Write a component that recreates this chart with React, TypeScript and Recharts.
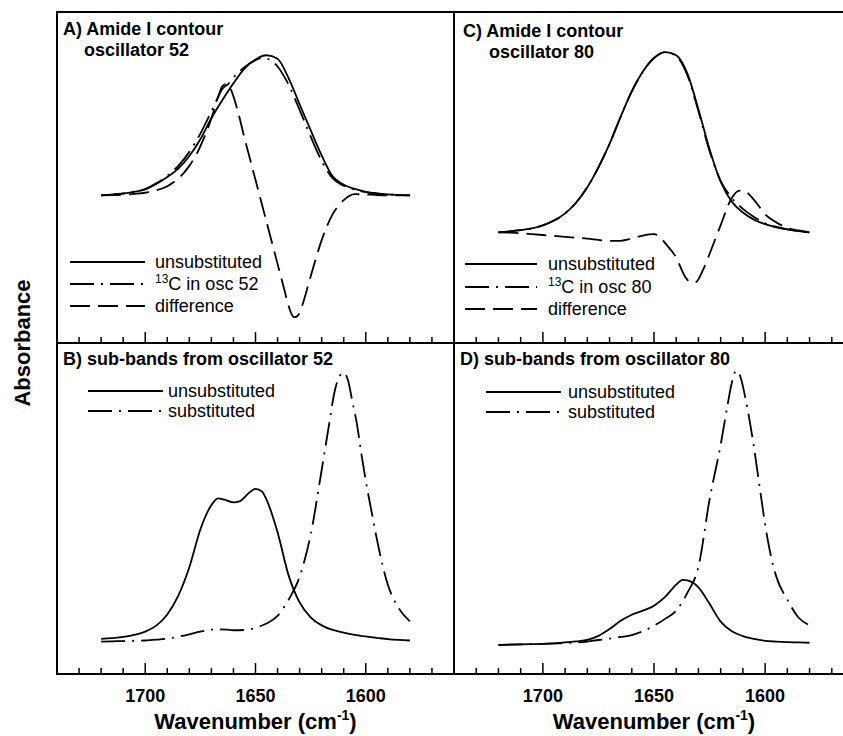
import { LineChart, Line, XAxis, YAxis } from 'recharts';

// wavenumber ticks: minor every 10, labelled every 50
const TICKS = [1730, 1720, 1710, 1700, 1690, 1680, 1670, 1660, 1650, 1640, 1630, 1620, 1610, 1600, 1590, 1580, 1570];
const X_DOMAIN = [1560, 1740];

// A) Amide I contour, oscillator 52
const aUnsub = [[1720, 0], [1715, 0.005], [1710, 0.012], [1705, 0.025], [1700, 0.042], [1695, 0.08], [1690, 0.13], [1685, 0.19], [1680, 0.28], [1675, 0.4], [1670, 0.55], [1665, 0.68], [1660, 0.8], [1655, 0.905], [1650, 0.97], [1645, 1.0], [1640, 0.975], [1635, 0.836], [1630, 0.65], [1625, 0.465], [1620, 0.285], [1615, 0.135], [1610, 0.075], [1605, 0.045], [1600, 0.025], [1595, 0.014], [1590, 0.007], [1585, 0.003], [1580, 0]];
const aSub = [[1720, 0], [1715, 0.005], [1710, 0.013], [1705, 0.027], [1700, 0.045], [1695, 0.085], [1690, 0.14], [1685, 0.21], [1680, 0.31], [1675, 0.44], [1670, 0.6], [1667, 0.7], [1665, 0.76], [1662, 0.8], [1660, 0.84], [1655, 0.915], [1650, 0.965], [1647, 0.98], [1644, 0.972], [1640, 0.92], [1635, 0.79], [1630, 0.61], [1625, 0.42], [1620, 0.245], [1615, 0.12], [1610, 0.068], [1605, 0.04], [1600, 0.022], [1595, 0.012], [1590, 0.006], [1585, 0.002], [1580, 0]];
const aDiff = [[1720, 0], [1715, 0.001], [1710, 0.004], [1705, 0.01], [1700, 0.018], [1695, 0.035], [1690, 0.065], [1685, 0.12], [1680, 0.21], [1675, 0.35], [1670, 0.55], [1667, 0.7], [1665, 0.78], [1663, 0.795], [1661, 0.75], [1658, 0.6], [1655, 0.41], [1650, 0.11], [1645, -0.19], [1640, -0.49], [1637, -0.67], [1635, -0.79], [1633, -0.865], [1632, -0.87], [1630, -0.84], [1629, -0.796], [1625, -0.58], [1620, -0.32], [1615, -0.135], [1610, -0.035], [1605, 0.008], [1600, 0.006], [1595, 0.002], [1590, 0], [1580, 0]];

// C) Amide I contour, oscillator 80
const cUnsub = [[1720, 0], [1715, 0.005], [1710, 0.012], [1705, 0.022], [1700, 0.038], [1695, 0.065], [1690, 0.105], [1685, 0.165], [1680, 0.25], [1675, 0.36], [1670, 0.49], [1665, 0.64], [1660, 0.78], [1655, 0.89], [1650, 0.965], [1645, 0.998], [1640, 0.98], [1635, 0.88], [1630, 0.68], [1625, 0.46], [1620, 0.28], [1615, 0.17], [1610, 0.11], [1605, 0.07], [1600, 0.045], [1595, 0.028], [1590, 0.016], [1585, 0.007], [1580, 0]];
const cSub = [[1720, 0], [1715, 0.005], [1710, 0.012], [1705, 0.022], [1700, 0.038], [1695, 0.065], [1690, 0.105], [1685, 0.165], [1680, 0.25], [1675, 0.36], [1670, 0.49], [1665, 0.64], [1660, 0.78], [1655, 0.89], [1650, 0.965], [1645, 0.998], [1640, 0.975], [1635, 0.87], [1630, 0.67], [1625, 0.45], [1620, 0.285], [1615, 0.19], [1610, 0.13], [1605, 0.085], [1600, 0.05], [1595, 0.03], [1590, 0.016], [1585, 0.007], [1580, 0]];
const cDiff = [[1720, 0], [1715, -0.002], [1710, -0.005], [1705, -0.01], [1700, -0.015], [1695, -0.02], [1690, -0.025], [1685, -0.03], [1680, -0.035], [1675, -0.042], [1670, -0.048], [1665, -0.047], [1660, -0.035], [1655, -0.018], [1650, -0.01], [1647, -0.03], [1645, -0.06], [1640, -0.14], [1636, -0.246], [1633, -0.28], [1631, -0.275], [1628, -0.21], [1625, -0.12], [1620, 0.04], [1615, 0.19], [1612, 0.23], [1610, 0.232], [1605, 0.18], [1600, 0.1], [1595, 0.055], [1590, 0.025], [1585, 0.01], [1580, 0]];

// B) sub-bands from oscillator 52
const bUnsub = [[1720, 0.015], [1715, 0.018], [1710, 0.022], [1705, 0.03], [1700, 0.042], [1695, 0.064], [1690, 0.105], [1685, 0.175], [1680, 0.28], [1675, 0.42], [1670, 0.51], [1667, 0.535], [1664, 0.53], [1660, 0.52], [1657, 0.525], [1653, 0.555], [1650, 0.57], [1647, 0.56], [1645, 0.53], [1640, 0.41], [1635, 0.25], [1630, 0.15], [1625, 0.095], [1620, 0.065], [1615, 0.048], [1610, 0.038], [1605, 0.03], [1600, 0.024], [1595, 0.019], [1590, 0.014], [1585, 0.011], [1580, 0.009]];
const bSub = [[1720, 0.005], [1715, 0.006], [1710, 0.007], [1705, 0.008], [1700, 0.009], [1695, 0.012], [1690, 0.016], [1685, 0.023], [1680, 0.032], [1675, 0.042], [1670, 0.049], [1667, 0.05], [1663, 0.049], [1660, 0.047], [1655, 0.048], [1650, 0.056], [1645, 0.072], [1640, 0.1], [1635, 0.16], [1630, 0.245], [1625, 0.4], [1620, 0.64], [1617, 0.79], [1614, 0.935], [1612, 0.985], [1610, 1.0], [1608, 0.97], [1606, 0.89], [1604, 0.81], [1602, 0.7], [1600, 0.6], [1597, 0.47], [1595, 0.385], [1590, 0.215], [1585, 0.128], [1580, 0.08]];

// D) sub-bands from oscillator 80
const dUnsub = [[1720, 0], [1715, 0.001], [1710, 0.002], [1705, 0.003], [1700, 0.004], [1695, 0.006], [1690, 0.009], [1685, 0.013], [1680, 0.018], [1675, 0.033], [1670, 0.058], [1665, 0.088], [1660, 0.11], [1655, 0.125], [1650, 0.143], [1645, 0.175], [1640, 0.22], [1637, 0.237], [1635, 0.235], [1630, 0.21], [1625, 0.15], [1620, 0.085], [1615, 0.05], [1610, 0.032], [1605, 0.022], [1600, 0.015], [1595, 0.012], [1590, 0.01], [1585, 0.009], [1580, 0.008]];
const dSub = [[1720, 0], [1710, 0.002], [1700, 0.004], [1690, 0.007], [1680, 0.012], [1675, 0.018], [1670, 0.023], [1665, 0.029], [1660, 0.036], [1655, 0.05], [1650, 0.07], [1645, 0.095], [1640, 0.125], [1635, 0.19], [1630, 0.285], [1625, 0.53], [1620, 0.73], [1617, 0.87], [1615, 0.955], [1613, 1.0], [1611, 0.975], [1609, 0.905], [1607, 0.82], [1605, 0.72], [1602, 0.55], [1600, 0.44], [1597, 0.31], [1595, 0.25], [1590, 0.165], [1585, 0.1], [1580, 0.072]];

const FONT = '"Liberation Sans", Arial, sans-serif';
const SOLID = undefined;
const DASH_DOT = '24 7 2 7';
const DASHED = '20 8';

const toPts = (arr: number[][]) => arr.map(([w, v]) => ({ w, v }));

const AxisTick = (props: any) => {
  const { x, y, payload, showLabel } = props;
  const major = payload.value % 50 === 0;
  return (
    <g>
      <line x1={x} x2={x} y1={y} y2={y - (major ? 11 : 6)} stroke="#000" strokeWidth={1.5} />
      {showLabel && major && (
        <text x={x} y={y + 28} textAnchor="middle" fontSize={18} fontWeight="bold" fontFamily={FONT} fill="#000">
          {payload.value}
        </text>
      )}
    </g>
  );
};

interface PanelProps {
  left: number;
  top: number;
  width: number;
  yDomain: number[];
  showLabels: boolean;
  series: Array<{ name: string; data: number[][]; dash?: string }>;
}

const Panel = ({ left, top, width, yDomain, showLabels, series }: PanelProps) => {
  const axisH = showLabels ? 50 : 12;
  return (
    <div style={{ position: 'absolute', left, top }}>
      <LineChart width={width} height={331 + axisH} margin={{ top: 0, right: 0, bottom: 0, left: 0 }}>
        <XAxis
          type="number"
          dataKey="w"
          domain={X_DOMAIN}
          reversed
          ticks={TICKS}
          interval={0}
          height={axisH}
          axisLine={false}
          tickLine={false}
          tickSize={0}
          tickMargin={0}
          tick={(p: any) => <AxisTick {...p} showLabel={showLabels} />}
        />
        <YAxis hide type="number" domain={yDomain} allowDataOverflow />
        {series.map((s) => (
          <Line
            key={s.name}
            data={toPts(s.data)}
            dataKey="v"
            name={s.name}
            type="monotone"
            stroke="#000"
            strokeWidth={1.8}
            strokeDasharray={s.dash}
            dot={false}
            activeDot={false}
            isAnimationActive={false}
          />
        ))}
      </LineChart>
    </div>
  );
};

const LegendRows = ({ x0, len, tx, rows }: { x0: number; len: number; tx: number; rows: Array<{ y: number; dash?: string; label: any }> }) => (
  <g>
    {rows.map((r, i) => (
      <g key={i}>
        <line x1={x0} x2={x0 + len} y1={r.y - 6} y2={r.y - 6} stroke="#000" strokeWidth={1.8} strokeDasharray={r.dash} />
        <text x={tx} y={r.y} fontSize={18} fontFamily={FONT} fill="#000">{r.label}</text>
      </g>
    ))}
  </g>
);

const sup13 = (rest: string) => (
  <>
    <tspan fontSize={12} dy={-7}>13</tspan>
    <tspan dy={7}>{rest}</tspan>
  </>
);

export default function App() {
  const bold = { fontFamily: FONT, fontWeight: 'bold' as const, fill: '#000' };
  return (
    <div style={{ position: 'fixed', left: 0, top: 0, width: 843, height: 736, overflow: 'hidden', background: '#fff' }}>
      <Panel left={57} top={12} width={397} yDomain={[-1.055, 1.309]} showLabels={false}
        series={[{ name: 'unsubstituted', data: aUnsub, dash: SOLID }, { name: '13C in osc 52', data: aSub, dash: DASH_DOT }, { name: 'difference', data: aDiff, dash: DASHED }]} />
      <Panel left={454} top={12} width={400} yDomain={[-0.613, 1.22]} showLabels={false}
        series={[{ name: 'unsubstituted', data: cUnsub, dash: SOLID }, { name: '13C in osc 80', data: cSub, dash: DASH_DOT }, { name: 'difference', data: cDiff, dash: DASHED }]} />
      <Panel left={57} top={343} width={397} yDomain={[-0.115, 1.11]} showLabels
        series={[{ name: 'unsubstituted', data: bUnsub, dash: SOLID }, { name: 'substituted', data: bSub, dash: DASH_DOT }]} />
      <Panel left={454} top={343} width={400} yDomain={[-0.106, 1.101]} showLabels
        series={[{ name: 'unsubstituted', data: dUnsub, dash: SOLID }, { name: 'substituted', data: dSub, dash: DASH_DOT }]} />

      {/* frame */}
      <div style={{ position: 'absolute', left: 56, top: 11, width: 800, height: 664, border: '2px solid #000', boxSizing: 'border-box' }} />
      <div style={{ position: 'absolute', left: 453, top: 11, width: 2, height: 664, background: '#000' }} />
      <div style={{ position: 'absolute', left: 56, top: 342, width: 800, height: 2, background: '#000' }} />

      <svg width={843} height={736} style={{ position: 'absolute', left: 0, top: 0, pointerEvents: 'none' }}>
        <text x={63} y={35} fontSize={18} {...bold}>A) Amide I contour</text>
        <text x={84} y={56} fontSize={18} {...bold}>oscillator 52</text>
        <text x={463} y={37} fontSize={18} {...bold}>C) Amide I contour</text>
        <text x={489} y={58} fontSize={18} {...bold}>oscillator 80</text>
        <text x={63} y={365} fontSize={18} {...bold}>B) sub-bands from oscillator 52</text>
        <text x={460} y={365} fontSize={18} {...bold}>D) sub-bands from oscillator 80</text>

        <LegendRows x0={70} len={75} tx={155} rows={[
          { y: 268, dash: SOLID, label: 'unsubstituted' },
          { y: 290, dash: DASH_DOT, label: sup13('C in osc 52') },
          { y: 312, dash: DASHED, label: 'difference' },
        ]} />
        <LegendRows x0={465} len={72} tx={548} rows={[
          { y: 270, dash: SOLID, label: 'unsubstituted' },
          { y: 293, dash: DASH_DOT, label: sup13('C in osc 80') },
          { y: 315, dash: DASHED, label: 'difference' },
        ]} />
        <LegendRows x0={88} len={75} tx={168} rows={[
          { y: 397, dash: SOLID, label: 'unsubstituted' },
          { y: 417, dash: DASH_DOT, label: 'substituted' },
        ]} />
        <LegendRows x0={486} len={75} tx={568} rows={[
          { y: 398, dash: SOLID, label: 'unsubstituted' },
          { y: 418, dash: DASH_DOT, label: 'substituted' },
        ]} />

        <text x={30} y={343} fontSize={22} textAnchor="middle" transform="rotate(-90, 30, 343)" {...bold}>Absorbance</text>
        <text x={255.5} y={729} fontSize={22} textAnchor="middle" {...bold}>
          Wavenumber (cm<tspan fontSize={14} dy={-9}>-1</tspan><tspan dy={9}>)</tspan>
        </text>
        <text x={654} y={729} fontSize={22} textAnchor="middle" {...bold}>
          Wavenumber (cm<tspan fontSize={14} dy={-9}>-1</tspan><tspan dy={9}>)</tspan>
        </text>
      </svg>
    </div>
  );
}
